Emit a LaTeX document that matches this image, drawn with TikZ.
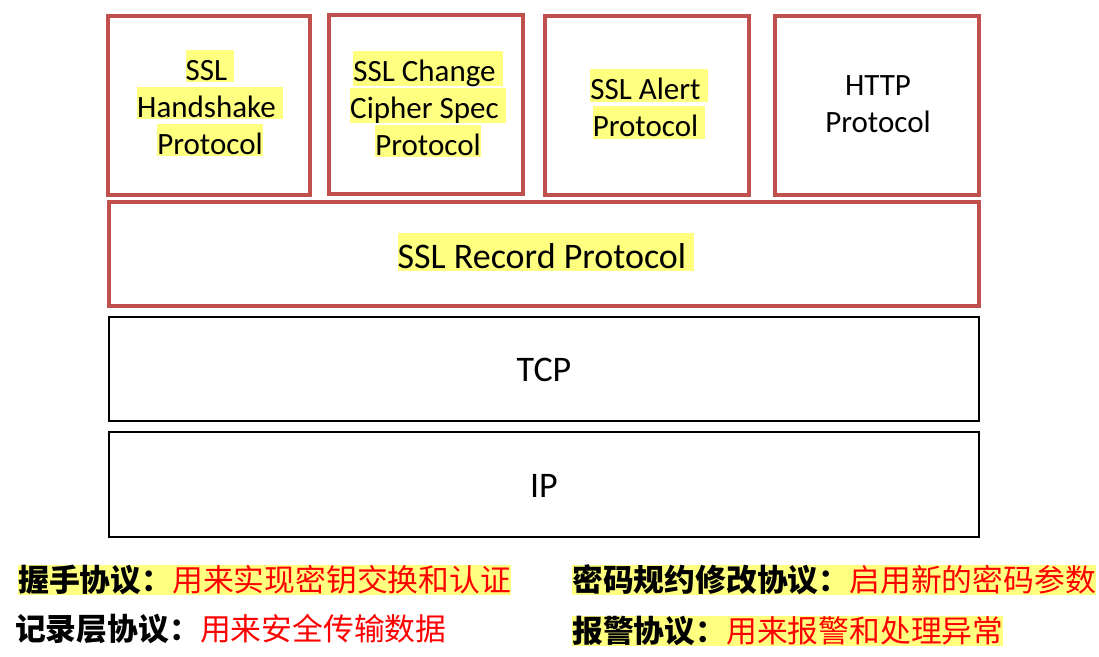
\documentclass[tikz,border=0pt]{standalone}
\usepackage{fontspec}
\setmainfont{Carlito}
\newfontfamily\cjk{Noto Sans CJK SC}
\definecolor{boxred}{HTML}{C0504D}
\definecolor{hly}{HTML}{FFFF80}
\definecolor{cnred}{HTML}{FF0000}
\newcommand\hlt[1]{{\setlength\fboxsep{0pt}\colorbox{hly}{\rule[-0.07em]{0pt}{1.05em}#1}}}
\tikzset{
  redbox/.style={draw=boxred, line width=3.2pt},
  blackbox/.style={draw=black, line width=2.8pt},
  lbl/.style={align=center, inner sep=0pt, font=\fontsize{31}{37}\selectfont},
  biglbl/.style={inner sep=0pt, font=\fontsize{36}{40}\selectfont},
  note/.style={anchor=west, inner sep=0pt, font=\cjk\fontsize{30.8}{36}\selectfont},
}
\begin{document}
\begin{tikzpicture}[x=1pt,y=-1pt]
\useasboundingbox (0,0) rectangle (1099,656);
% top row boxes
\node[redbox, minimum width=202pt, minimum height=179pt] (b1) at (209,105.5) {};
\node[redbox, minimum width=194pt, minimum height=179pt] (b2) at (426,104.5) {};
\node[redbox, minimum width=204pt, minimum height=179pt] (b3) at (647,105.5) {};
\node[redbox, minimum width=204pt, minimum height=179pt] (b4) at (877,105.5) {};
\node[lbl] (t1) at (210,103) {\hlt{SSL\ }\\\hlt{Handshake\ }\\\hlt{Protocol}};
\node[lbl] (t2) at (428,104) {\hlt{SSL Change\ }\\\hlt{Cipher Spec\ }\\\hlt{Protocol}};
\node[lbl] (t3) at (649,104) {\hlt{SSL Alert\ }\\\hlt{Protocol\ }};
\node[lbl] (t4) at (878,104) {HTTP\\Protocol};
% layers
\node[redbox, minimum width=870pt, minimum height=104pt] (rec) at (544,254) {};
\node[biglbl] (trec) at (546,252) {\hlt{SSL Record Protocol\ }};
\node[blackbox, minimum width=870pt, minimum height=104pt] (tcp) at (544,369) {};
\node[biglbl] (ttcp) at (544,370) {TCP};
\node[blackbox, minimum width=870pt, minimum height=105pt] (ip) at (544,484.5) {};
\node[biglbl] (tip) at (544,486) {IP};
% notes
\node[note, fill=hly, minimum height=30pt] (n1) at (18,580) {\textbf{握手协议：}\textcolor{cnred}{用来实现密钥交换和认证}};
\node[note] (n2) at (15,629) {\textbf{记录层协议：}\textcolor{cnred}{用来安全传输数据}};
\node[note, fill=hly, minimum height=30pt] (n3) at (572,580) {\textbf{密码规约修改协议：}\textcolor{cnred}{启用新的密码参数}};
\node[note, fill=hly, minimum height=30pt] (n4) at (572,631) {\textbf{报警协议：}\textcolor{cnred}{用来报警和处理异常}};
\end{tikzpicture}
\end{document}
